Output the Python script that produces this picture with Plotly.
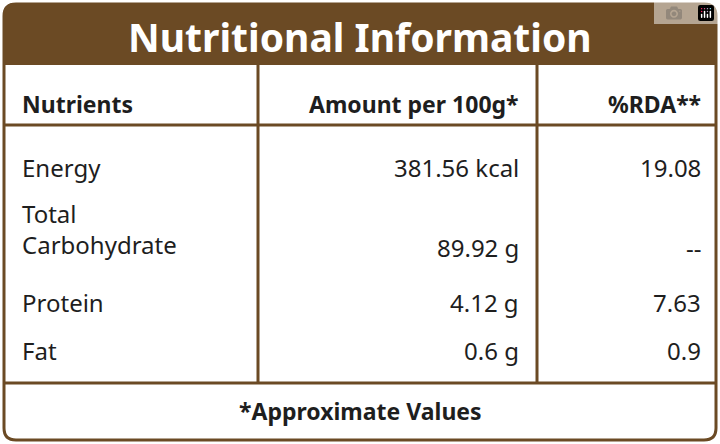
import plotly.graph_objects as go

title = "Nutritional Information"
headers = ["Nutrients", "Amount per 100g*", "%RDA**"]
nutrients = ["Energy", "Total<br>Carbohydrate", "Protein", "Fat"]
amounts = ["381.56 kcal", "89.92 g", "4.12 g", "0.6 g"]
rda = ["19.08", "--", "7.63", "0.9"]
footer = "*Approximate Values"

BROWN = "#6b4a24"
TXT = "#1e1e1e"
FONT = "Noto Sans"
row_y = [167, 229, 302, 350]
val_y = [167, 247, 302, 350]

fig = go.Figure()
shapes = [
    dict(type="path", path="M3,16 Q3,3 16,3 L704,3 Q717,3 717,16 L717,65 L3,65 Z",
         fillcolor=BROWN, line=dict(width=0)),
    dict(type="path", path="M4,16 Q4,4 16,4 L704,4 Q716,4 716,16 L716,428 Q716,440 704,440 L16,440 Q4,440 4,428 Z",
         line=dict(color=BROWN, width=3)),
    dict(type="line", x0=4, x1=716, y0=125, y1=125, line=dict(color=BROWN, width=3)),
    dict(type="line", x0=4, x1=716, y0=383, y1=383, line=dict(color=BROWN, width=3)),
    dict(type="line", x0=258, x1=258, y0=65, y1=383, line=dict(color=BROWN, width=3)),
    dict(type="line", x0=537, x1=537, y0=65, y1=383, line=dict(color=BROWN, width=3)),
]
ann = [dict(x=360, y=36, text="<b>%s</b>" % title, showarrow=False,
            font=dict(family=FONT, size=39, color="white"))]
hx = [(20, "left"), (521, "right"), (703, "right")]
for (x, a), h in zip(hx, headers):
    ann.append(dict(x=x, y=104, text="<b>%s</b>" % h, xanchor=a, showarrow=False,
                    font=dict(family=FONT, size=23, color=TXT)))
for i in range(len(nutrients)):
    ann.append(dict(x=20, y=row_y[i], text=nutrients[i], xanchor="left", align="left",
                    showarrow=False, font=dict(family=FONT, size=24, color=TXT)))
    ann.append(dict(x=521, y=val_y[i], text=amounts[i], xanchor="right",
                    showarrow=False, font=dict(family=FONT, size=24, color=TXT)))
    ann.append(dict(x=703, y=val_y[i], text=rda[i], xanchor="right",
                    showarrow=False, font=dict(family=FONT, size=24, color=TXT)))
ann.append(dict(x=360, y=411, text="<b>%s</b>" % footer, showarrow=False,
                font=dict(family=FONT, size=23, color=TXT)))

fig.update_layout(width=720, height=444, margin=dict(l=0, r=0, t=0, b=0),
                  paper_bgcolor="white", plot_bgcolor="white",
                  xaxis=dict(range=[0, 720], visible=False, fixedrange=True),
                  yaxis=dict(range=[444, 0], visible=False, fixedrange=True),
                  shapes=shapes, annotations=ann, showlegend=False)
fig.write_html("out.html", post_script="document.body.style.margin='0';document.body.style.overflow='hidden';")
